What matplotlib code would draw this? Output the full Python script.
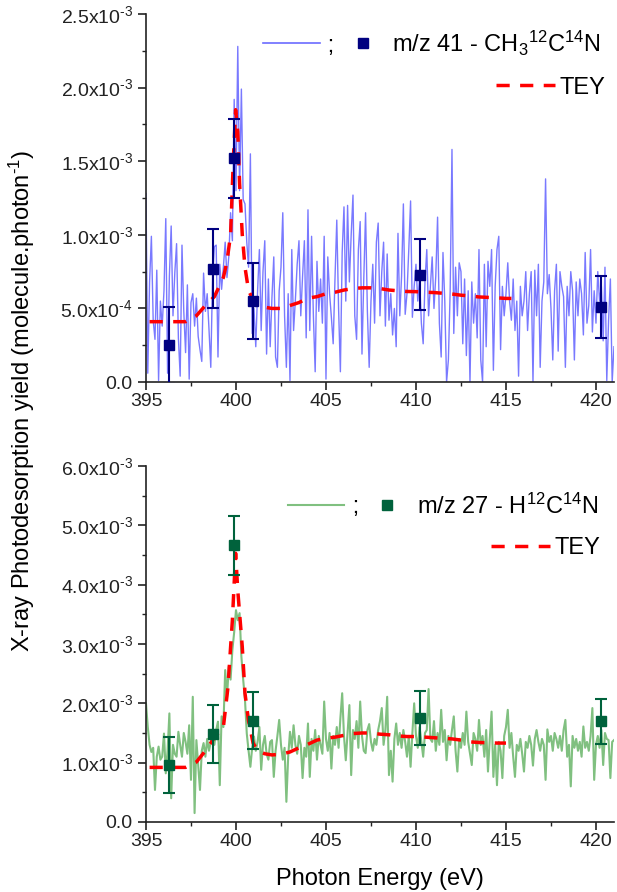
import numpy as np
import matplotlib
matplotlib.use("Agg")
import matplotlib.pyplot as plt
from matplotlib.lines import Line2D
from matplotlib.ticker import MultipleLocator, FuncFormatter

plt.rcParams['font.family'] = ['Liberation Sans', 'DejaVu Sans']
plt.rcParams['mathtext.default'] = 'regular'

# photon energy grid of the scans (eV)
energy = np.linspace(395.0, 421.0, 261)

# m/z 41 scan, units of 1e-3 molecule/photon
mz41 = [1.28, 0.06, 0.68, 0.99, 0.42, 0.29, 0.76, 0.01, 0.55, 0.38,
        0.62, 1.11, 0.06, 0.72, 1.06, 0.45, 0.74, 0.94, 0.30, 0.04,
        0.93, 0.48, 0.20, 0.66, 0.02, 0.54, 0.60, 0.38, 0.57, 0.31,
        0.22, 0.14, 0.74, 0.48, 0.60, 0.36, 0.10, 0.72, 0.92, 0.93,
        0.17, 0.80, 0.63, 0.78, 0.95, 0.71, 0.85, 1.15, 0.96, 1.92,
        1.30, 2.28, 1.30, 1.99, 1.24, 1.21, 0.95, 0.78, 1.55, 0.33,
        0.50, 0.24, 0.62, 0.90, 0.35, 0.75, 0.96, 0.19, 0.70, 0.24,
        0.58, 0.85, 0.17, 0.10, 0.62, 0.78, 1.15, 0.45, 0.10, 0.60,
        0.01, 0.90, 0.35, 0.56, 0.80, 0.96, 0.45, 0.72, 0.96, 0.30,
        1.17, 0.35, 0.99, 0.45, 0.07, 0.82, 0.48, 0.70, 0.40, 0.99,
        0.02, 0.85, 0.60, 0.44, 0.26, 0.70, 1.10, 0.50, 0.07, 0.88,
        1.19, 0.55, 1.20, 0.68, 1.00, 1.27, 0.45, 0.29, 0.90, 1.09,
        0.19, 0.70, 1.15, 0.48, 0.10, 0.55, 0.80, 0.40, 0.95, 1.08,
        0.45, 0.75, 0.95, 0.38, 0.87, 0.42, 0.60, 0.32, 0.50, 0.24,
        1.01, 0.45, 0.72, 1.21, 0.46, 0.60, 0.90, 1.23, 0.44, 0.65,
        0.80, 0.55, 0.70, 0.40, 0.26, 0.68, 0.90, 0.45, 0.65, 0.85,
        0.50, 0.72, 1.12, 0.40, 0.17, 0.88, 0.55, 0.00, 0.15, 0.62,
        1.58, 0.33, 0.78, 0.45, 0.81, 0.75, 0.26, 0.70, 0.18, 0.62,
        0.00, 0.68, 0.40, 0.60, 0.30, 0.90, 0.15, 0.00, 0.80, 0.24,
        0.82, 0.65, 0.90, 0.08, 0.65, 0.90, 0.99, 0.22, 0.65, 0.45,
        0.60, 0.81, 0.55, 0.42, 0.70, 0.35, 0.55, 0.04, 0.65, 0.45,
        0.55, 0.75, 0.35, 0.60, 0.75, 0.00, 0.76, 0.45, 0.80, 0.10,
        0.55, 0.68, 1.38, 0.60, 0.73, 0.50, 0.15, 0.62, 0.80, 0.21,
        0.75, 0.65, 0.58, 0.10, 0.65, 0.45, 0.75, 0.62, 0.15, 0.68,
        0.45, 0.70, 0.60, 0.32, 0.88, 0.40, 0.52, 0.90, 0.34, 0.62,
        0.40, 0.75, 0.55, 0.65, 0.28, 0.78, 0.01, 0.42, 0.70, 0.00,
        0.24]

# m/z 27 scan, units of 1e-3
mz27 = [2.00, 1.60, 1.30, 1.18, 1.25, 0.54, 1.10, 1.27, 1.05, 1.10,
        1.49, 0.82, 1.20, 1.83, 0.40, 1.30, 1.15, 1.10, 1.52, 1.30,
        1.10, 1.50, 1.35, 1.15, 1.63, 0.71, 2.11, 0.15, 1.38, 0.95,
        0.54, 1.20, 1.33, 1.10, 1.40, 1.20, 1.35, 1.49, 1.30, 1.55,
        1.69, 0.62, 1.78, 1.60, 2.56, 2.10, 2.62, 2.40, 2.90, 3.20,
        3.57, 3.40, 3.52, 2.79, 2.40, 2.06, 1.49, 1.20, 0.93, 1.25,
        1.44, 1.20, 1.35, 1.60, 0.88, 1.30, 1.45, 1.15, 1.05, 1.35,
        1.38, 0.76, 1.20, 1.45, 1.72, 1.30, 1.05, 1.25, 0.34, 1.10,
        1.52, 1.25, 1.63, 1.30, 1.15, 1.45, 1.30, 0.74, 1.25, 1.10,
        1.66, 0.76, 1.40, 1.20, 1.55, 1.05, 1.45, 1.30, 1.15, 2.03,
        1.40, 1.20, 1.50, 0.90, 1.45, 1.30, 1.60, 1.25, 1.75, 2.17,
        1.45, 1.04, 1.50, 1.97, 0.79, 1.55, 1.40, 1.70, 1.25, 2.03,
        1.45, 1.20, 1.16, 1.55, 1.65, 1.35, 1.20, 1.40, 1.30, 1.55,
        1.70, 1.92, 1.30, 1.55, 2.11, 0.79, 1.20, 0.68, 1.40, 1.66,
        1.30, 1.50, 1.25, 1.55, 1.35, 1.10, 1.45, 0.93, 1.50, 2.00,
        1.45, 1.25, 1.60, 1.35, 1.10, 1.50, 1.55, 2.24, 1.40, 1.35,
        1.70, 1.20, 1.50, 1.30, 1.89, 1.35, 1.55, 1.04, 1.45, 1.30,
        1.55, 1.78, 1.20, 0.85, 1.40, 1.25, 1.50, 1.30, 1.86, 1.35,
        1.15, 0.96, 1.50, 1.40, 1.20, 1.72, 1.30, 1.45, 1.10, 1.55,
        0.85, 1.40, 1.86, 0.76, 1.30, 0.62, 1.35, 1.20, 0.74, 1.45,
        1.60, 1.89, 1.25, 1.50, 1.10, 0.76, 1.30, 1.20, 1.40, 1.15,
        0.85, 1.35, 1.25, 1.45, 1.30, 0.95, 1.40, 1.55, 1.35, 1.20,
        1.40, 1.30, 0.71, 1.56, 1.35, 1.45, 1.20, 1.50, 1.40, 1.25,
        1.45, 1.20, 1.55, 1.72, 1.10, 1.30, 0.60, 1.45, 1.25, 1.40,
        1.20, 1.35, 1.10, 1.61, 1.25, 1.35, 1.20, 1.45, 1.92, 0.71,
        1.30, 1.45, 1.25, 1.55, 0.96, 1.50, 1.40, 1.38, 0.74, 1.35,
        1.38]

# integrated yields (squares with error bars), units of 1e-3
pts_x41 = [396.26, 398.74, 399.91, 400.97, 410.24, 420.3]
pts_y41 = [0.25, 0.77, 1.52, 0.55, 0.73, 0.51]
pts_e41 = [0.26, 0.27, 0.27, 0.26, 0.24, 0.21]

pts_x27 = [396.26, 398.74, 399.91, 400.97, 410.24, 420.3]
pts_y27 = [0.96, 1.48, 4.66, 1.71, 1.75, 1.70]
pts_e27 = [0.47, 0.49, 0.50, 0.48, 0.45, 0.38]

# TEY scaled curves, units of 1e-3
tey_x41 = [395.2, 395.8, 396.5, 397.2, 397.8, 398.3, 398.8, 399.3, 399.5, 399.7,
           399.85, 399.98, 400.1, 400.2, 400.35, 400.5, 400.7, 401.0, 401.5, 402.0,
           402.5, 403.0, 403.5, 404.0, 404.5, 405.0, 405.5, 406.0, 406.5, 407.0,
           407.5, 408.0, 408.5, 409.0, 409.5, 410.0, 410.5, 411.0, 411.5, 412.0,
           412.5, 413.0, 413.5, 414.0, 414.5, 415.0, 415.3]
tey_y41 = [0.41, 0.41, 0.41, 0.41, 0.45, 0.52, 0.58, 0.71, 0.82, 1.00,
           1.50, 1.85, 1.70, 1.35, 1.00, 0.78, 0.62, 0.55, 0.51, 0.50,
           0.50, 0.52, 0.54, 0.57, 0.58, 0.60, 0.61, 0.625, 0.635, 0.64,
           0.64, 0.635, 0.625, 0.62, 0.615, 0.614, 0.61, 0.608, 0.603, 0.598,
           0.59, 0.585, 0.578, 0.575, 0.572, 0.568, 0.568]

tey_x27 = [395.2, 395.8, 396.5, 397.2, 397.8, 398.3, 398.8, 399.3, 399.55, 399.8,
           399.98, 400.1, 400.35, 400.5, 400.7, 400.95, 401.2, 401.6, 402.0, 402.5,
           403.0, 403.5, 404.0, 404.5, 405.0, 405.5, 406.0, 406.5, 407.0, 407.5,
           408.0, 408.5, 409.0, 409.5, 410.0, 410.5, 411.0, 411.5, 412.0, 412.5,
           413.0, 413.5, 414.0, 414.5, 415.0]
tey_y27 = [0.92, 0.92, 0.92, 0.92, 1.01, 1.20, 1.42, 1.60, 2.26, 3.40,
           4.53, 3.90, 2.95, 2.17, 1.70, 1.33, 1.20, 1.15, 1.13, 1.14,
           1.18, 1.25, 1.31, 1.38, 1.41, 1.43, 1.46, 1.49, 1.50, 1.50,
           1.48, 1.47, 1.45, 1.44, 1.44, 1.43, 1.42, 1.41, 1.40, 1.38,
           1.35, 1.34, 1.335, 1.33, 1.33]

S = 1e-3


def sci_fmt(v, pos):
    if abs(v) < 1e-12:
        return '0.0'
    e = int(np.floor(np.log10(abs(v)) + 1e-9))
    m = v / 10 ** e
    return '%.1fx10$^{\u2010%d}$' % (m, abs(e))


def style_axis(ax, ymax, ymajor, yminor):
    ax.set_xlim(395, 421)
    ax.set_ylim(0, ymax)
    ax.xaxis.set_major_locator(MultipleLocator(5))
    ax.xaxis.set_minor_locator(MultipleLocator(2.5))
    ax.yaxis.set_major_locator(MultipleLocator(ymajor))
    ax.yaxis.set_minor_locator(MultipleLocator(yminor))
    ax.yaxis.set_major_formatter(FuncFormatter(sci_fmt))
    ax.spines['top'].set_visible(False)
    ax.spines['right'].set_visible(False)
    for s in ['left', 'bottom']:
        ax.spines[s].set_linewidth(1.2)
        ax.spines[s].set_color('#222222')
    ax.tick_params(which='major', direction='out', length=6, width=1.2, labelsize=14, colors='#222222')
    ax.tick_params(which='minor', direction='out', length=3, width=1.0, colors='#222222')
    ax.tick_params(axis='x', pad=2)


fig = plt.figure(figsize=(6.17, 8.92), dpi=100)
ax1 = fig.add_axes([0.2366, 0.5717, 0.7585, 0.4126])
ax2 = fig.add_axes([0.2366, 0.0785, 0.7585, 0.3991])

# top panel
c_line1 = '#6b6bff'
c_pt1 = '#000080'
ax1.plot(energy, np.array(mz41) * S, '-', color=c_line1, lw=1.0, alpha=0.9, zorder=1)
ax1.plot(tey_x41, np.array(tey_y41) * S, '--', color='red', lw=2.5, dashes=(3.8, 3.0), zorder=3)
ax1.errorbar(pts_x41, np.array(pts_y41) * S, yerr=np.array(pts_e41) * S, fmt='s', color=c_pt1,
             ms=7, elinewidth=1.5, capsize=4, capthick=1.5, zorder=4)
style_axis(ax1, 2.5e-3, 0.5e-3, 0.25e-3)

# bottom panel
c_line2 = '#80c080'
c_pt2 = '#00623c'
ax2.plot(energy, np.array(mz27) * S, '-', color=c_line2, lw=1.5, zorder=1)
ax2.plot(tey_x27, np.array(tey_y27) * S, '--', color='red', lw=2.5, dashes=(3.8, 3.0), zorder=3)
ax2.errorbar(pts_x27, np.array(pts_y27) * S, yerr=np.array(pts_e27) * S, fmt='s', color=c_pt2,
             ms=7, elinewidth=1.5, capsize=4, capthick=1.5, zorder=4)
style_axis(ax2, 6.0e-3, 1.0e-3, 0.5e-3)
ax2.set_xlabel('Photon Energy (eV)', fontsize=17, labelpad=13)

fig.text(0.036, 0.55, 'X-ray Photodesorption yield (molecule.photon$^{\u20101}$)',
         rotation=90, ha='center', va='center', fontsize=17)


# legends
def add_legends(ax, lc, lw, pc, label, y1, x1, y2, x2):
    h_line = Line2D([], [], color=lc, lw=lw)
    h_pt = Line2D([], [], color=pc, marker='s', ms=7, ls='none')
    leg = ax.legend([h_line, h_pt], [' ;', label], ncol=2, loc='center right',
                    bbox_to_anchor=(x1, y1), frameon=False, fontsize=17,
                    handlelength=2.4, handletextpad=0.05, columnspacing=0.0,
                    borderpad=0, borderaxespad=0)
    ax.add_artist(leg)
    h_tey = Line2D([], [], color='red', lw=2.5, ls='--', dashes=(3.8, 3.0))
    ax.legend([h_tey], ['TEY'], loc='center right', bbox_to_anchor=(x2, y2),
              frameon=False, fontsize=17, handlelength=2.5, handletextpad=0.2,
              borderpad=0, borderaxespad=0)


add_legends(ax1, c_line1, 1.2, c_pt1, 'm/z 41 - CH$_3$$^{12}$C$^{14}$N', 0.921, 0.972, 0.80, 0.982)
add_legends(ax2, c_line2, 1.5, c_pt2, 'm/z 27 - H$^{12}$C$^{14}$N', 0.888, 0.966, 0.770, 0.972)

fig.savefig('out.png', dpi=100)
